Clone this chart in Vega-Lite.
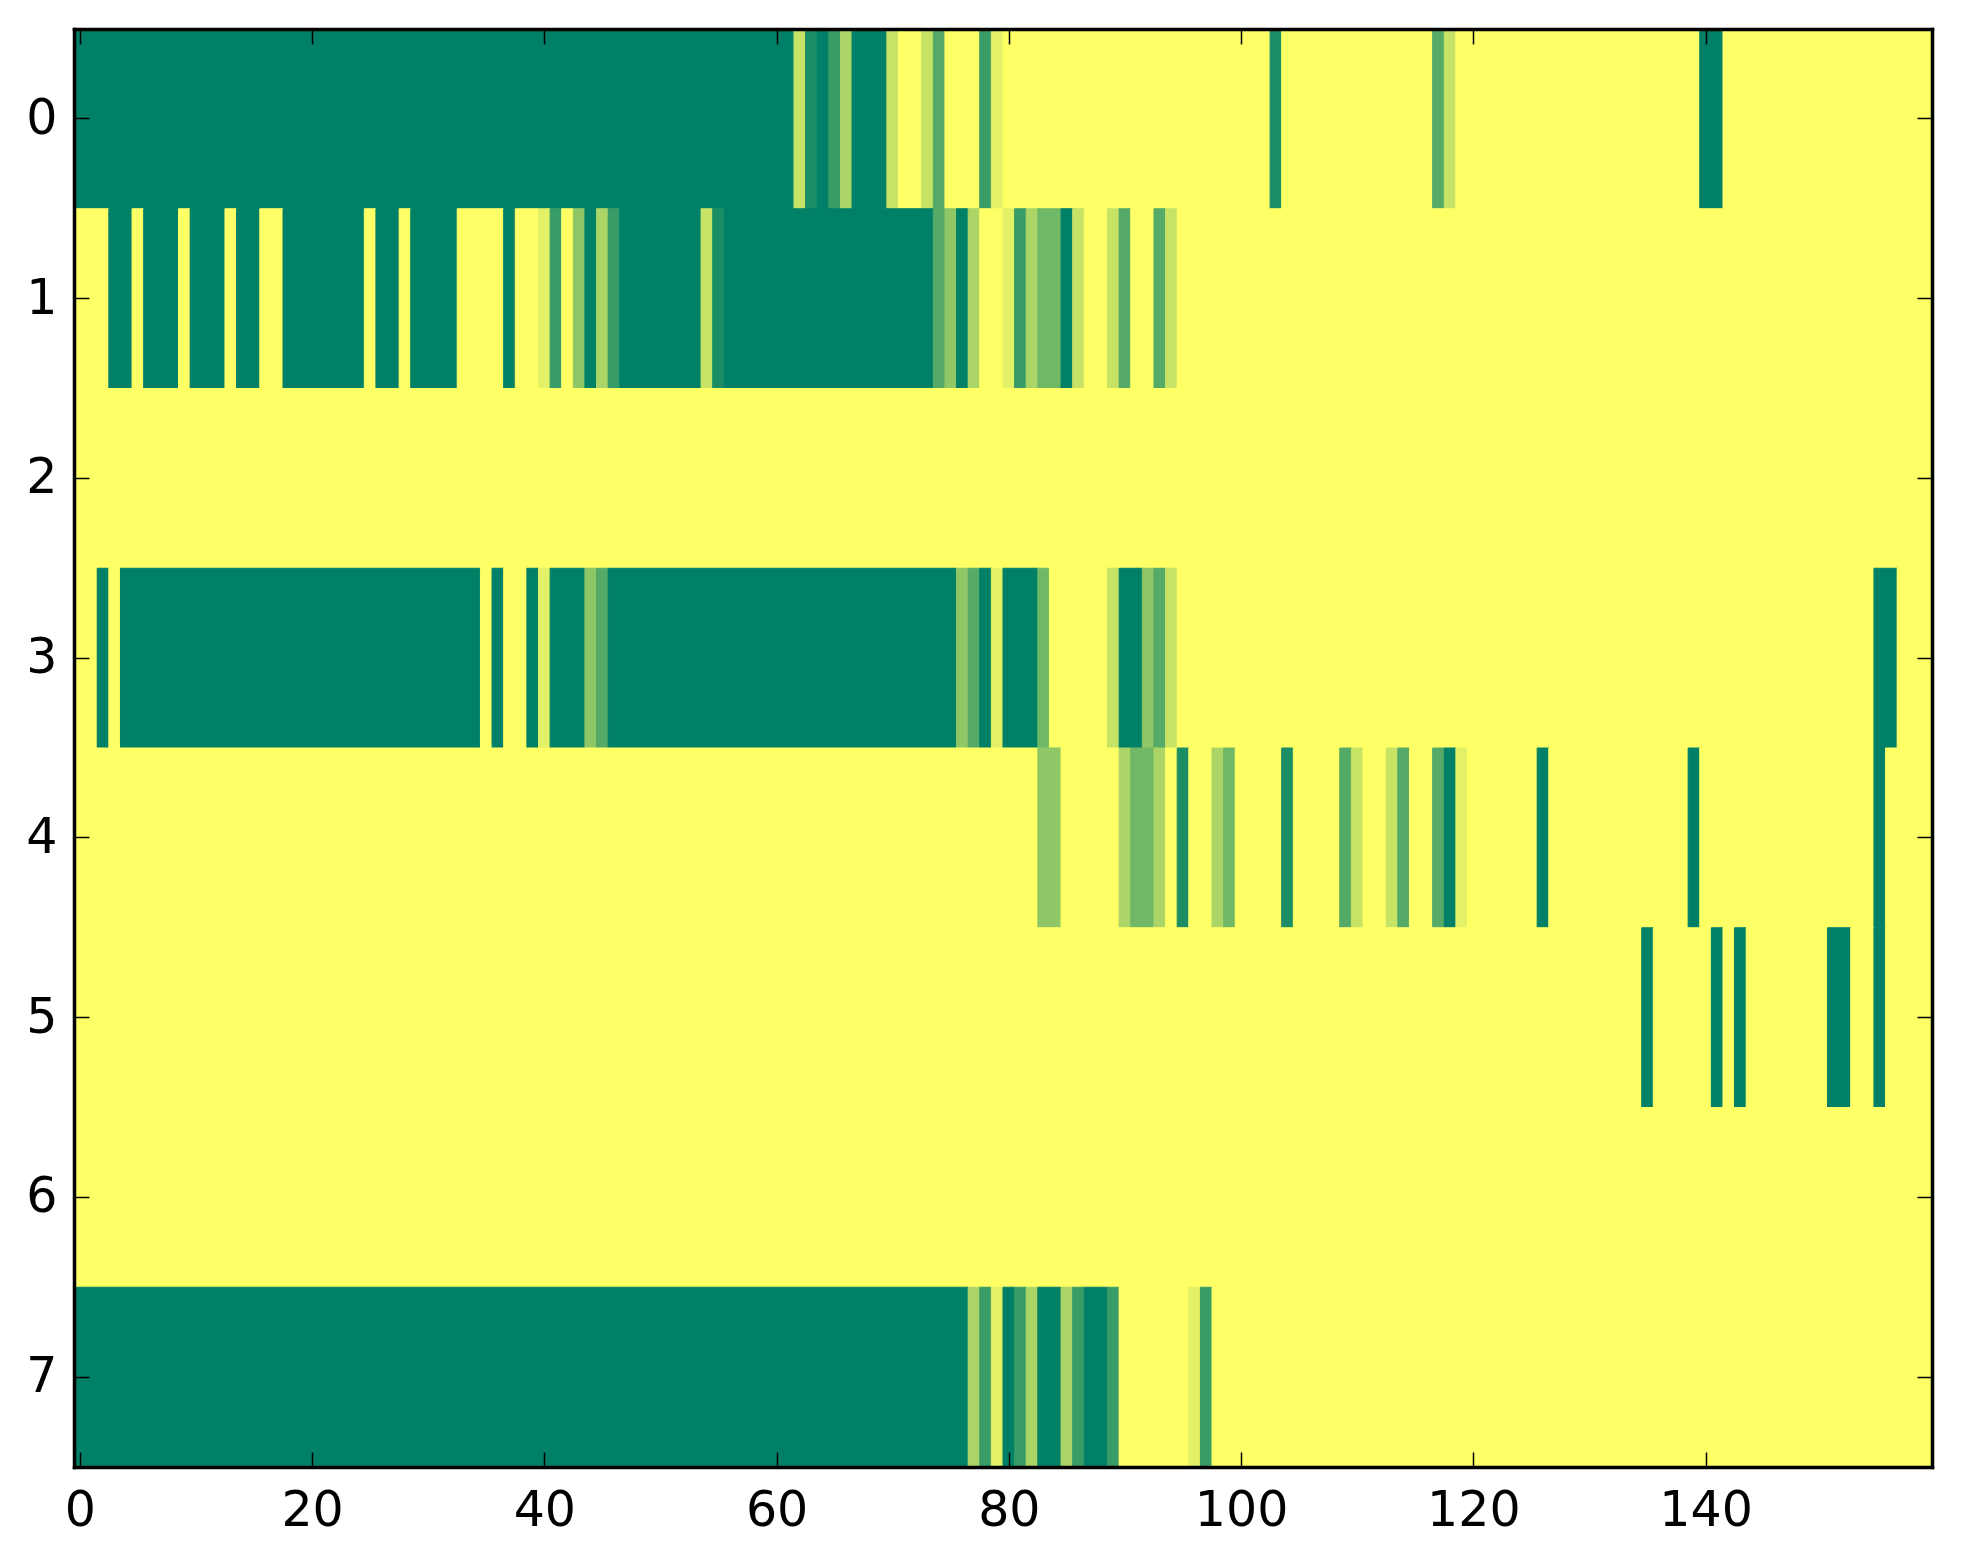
{
  "$schema": "https://vega.github.io/schema/vega-lite/v6.json",
  "width": 1858,
  "height": 1438,
  "autosize": "none",
  "padding": {"left": 74, "top": 29, "right": 31, "bottom": 97},
  "background": "white",
  "config": {
    "view": {"stroke": null},
    "font": "DejaVu Sans",
    "axis": {
      "grid": false,
      "title": null,
      "labelFont": "DejaVu Sans",
      "labelFontSize": 49,
      "labelColor": "black"
    }
  },
  "data": {
    "values": [
      {"row": 0, "from": -0.5, "to": 61.5, "value": 0},
      {"row": 0, "from": 61.5, "to": 62.5, "value": 0.78},
      {"row": 0, "from": 62.5, "to": 63.5, "value": 0.11},
      {"row": 0, "from": 63.5, "to": 64.5, "value": 0},
      {"row": 0, "from": 64.5, "to": 65.5, "value": 0.22},
      {"row": 0, "from": 65.5, "to": 66.5, "value": 0.67},
      {"row": 0, "from": 66.5, "to": 69.5, "value": 0},
      {"row": 0, "from": 69.5, "to": 70.5, "value": 0.78},
      {"row": 0, "from": 70.5, "to": 72.5, "value": 1},
      {"row": 0, "from": 72.5, "to": 73.5, "value": 0.78},
      {"row": 0, "from": 73.5, "to": 74.5, "value": 0.33},
      {"row": 0, "from": 74.5, "to": 77.5, "value": 1},
      {"row": 0, "from": 77.5, "to": 78.5, "value": 0.22},
      {"row": 0, "from": 78.5, "to": 79.5, "value": 0.89},
      {"row": 0, "from": 79.5, "to": 102.5, "value": 1},
      {"row": 0, "from": 102.5, "to": 103.5, "value": 0.11},
      {"row": 0, "from": 103.5, "to": 116.5, "value": 1},
      {"row": 0, "from": 116.5, "to": 117.5, "value": 0.33},
      {"row": 0, "from": 117.5, "to": 118.5, "value": 0.78},
      {"row": 0, "from": 118.5, "to": 139.5, "value": 1},
      {"row": 0, "from": 139.5, "to": 141.5, "value": 0},
      {"row": 0, "from": 141.5, "to": 159.5, "value": 1},

      {"row": 1, "from": -0.5, "to": 2.5, "value": 1},
      {"row": 1, "from": 2.5, "to": 4.5, "value": 0},
      {"row": 1, "from": 4.5, "to": 5.5, "value": 1},
      {"row": 1, "from": 5.5, "to": 8.5, "value": 0},
      {"row": 1, "from": 8.5, "to": 9.5, "value": 1},
      {"row": 1, "from": 9.5, "to": 12.5, "value": 0},
      {"row": 1, "from": 12.5, "to": 13.5, "value": 1},
      {"row": 1, "from": 13.5, "to": 15.5, "value": 0},
      {"row": 1, "from": 15.5, "to": 17.5, "value": 1},
      {"row": 1, "from": 17.5, "to": 24.5, "value": 0},
      {"row": 1, "from": 24.5, "to": 25.5, "value": 1},
      {"row": 1, "from": 25.5, "to": 27.5, "value": 0},
      {"row": 1, "from": 27.5, "to": 28.5, "value": 1},
      {"row": 1, "from": 28.5, "to": 32.5, "value": 0},
      {"row": 1, "from": 32.5, "to": 36.5, "value": 1},
      {"row": 1, "from": 36.5, "to": 37.5, "value": 0},
      {"row": 1, "from": 37.5, "to": 39.5, "value": 1},
      {"row": 1, "from": 39.5, "to": 40.5, "value": 0.89},
      {"row": 1, "from": 40.5, "to": 41.5, "value": 0.22},
      {"row": 1, "from": 41.5, "to": 42.5, "value": 1},
      {"row": 1, "from": 42.5, "to": 43.5, "value": 0.56},
      {"row": 1, "from": 43.5, "to": 44.5, "value": 0},
      {"row": 1, "from": 44.5, "to": 45.5, "value": 0.67},
      {"row": 1, "from": 45.5, "to": 46.5, "value": 0.22},
      {"row": 1, "from": 46.5, "to": 53.5, "value": 0},
      {"row": 1, "from": 53.5, "to": 54.5, "value": 0.78},
      {"row": 1, "from": 54.5, "to": 55.5, "value": 0.11},
      {"row": 1, "from": 55.5, "to": 73.5, "value": 0},
      {"row": 1, "from": 73.5, "to": 74.5, "value": 0.33},
      {"row": 1, "from": 74.5, "to": 75.5, "value": 0.56},
      {"row": 1, "from": 75.5, "to": 76.5, "value": 0},
      {"row": 1, "from": 76.5, "to": 77.5, "value": 0.67},
      {"row": 1, "from": 77.5, "to": 79.5, "value": 1},
      {"row": 1, "from": 79.5, "to": 80.5, "value": 0.89},
      {"row": 1, "from": 80.5, "to": 81.5, "value": 0.22},
      {"row": 1, "from": 81.5, "to": 82.5, "value": 0.67},
      {"row": 1, "from": 82.5, "to": 84.5, "value": 0.44},
      {"row": 1, "from": 84.5, "to": 85.5, "value": 0},
      {"row": 1, "from": 85.5, "to": 86.5, "value": 0.78},
      {"row": 1, "from": 86.5, "to": 88.5, "value": 1},
      {"row": 1, "from": 88.5, "to": 89.5, "value": 0.78},
      {"row": 1, "from": 89.5, "to": 90.5, "value": 0.33},
      {"row": 1, "from": 90.5, "to": 92.5, "value": 1},
      {"row": 1, "from": 92.5, "to": 93.5, "value": 0.33},
      {"row": 1, "from": 93.5, "to": 94.5, "value": 0.78},
      {"row": 1, "from": 94.5, "to": 159.5, "value": 1},

      {"row": 2, "from": -0.5, "to": 159.5, "value": 1},

      {"row": 3, "from": -0.5, "to": 1.5, "value": 1},
      {"row": 3, "from": 1.5, "to": 2.5, "value": 0},
      {"row": 3, "from": 2.5, "to": 3.5, "value": 1},
      {"row": 3, "from": 3.5, "to": 34.5, "value": 0},
      {"row": 3, "from": 34.5, "to": 35.5, "value": 1},
      {"row": 3, "from": 35.5, "to": 36.5, "value": 0},
      {"row": 3, "from": 36.5, "to": 38.5, "value": 1},
      {"row": 3, "from": 38.5, "to": 39.5, "value": 0},
      {"row": 3, "from": 39.5, "to": 40.5, "value": 0.89},
      {"row": 3, "from": 40.5, "to": 43.5, "value": 0},
      {"row": 3, "from": 43.5, "to": 44.5, "value": 0.56},
      {"row": 3, "from": 44.5, "to": 45.5, "value": 0.33},
      {"row": 3, "from": 45.5, "to": 75.5, "value": 0},
      {"row": 3, "from": 75.5, "to": 76.5, "value": 0.56},
      {"row": 3, "from": 76.5, "to": 77.5, "value": 0.33},
      {"row": 3, "from": 77.5, "to": 78.5, "value": 0},
      {"row": 3, "from": 78.5, "to": 79.5, "value": 0.89},
      {"row": 3, "from": 79.5, "to": 82.5, "value": 0},
      {"row": 3, "from": 82.5, "to": 83.5, "value": 0.44},
      {"row": 3, "from": 83.5, "to": 88.5, "value": 1},
      {"row": 3, "from": 88.5, "to": 89.5, "value": 0.78},
      {"row": 3, "from": 89.5, "to": 91.5, "value": 0},
      {"row": 3, "from": 91.5, "to": 92.5, "value": 0.56},
      {"row": 3, "from": 92.5, "to": 93.5, "value": 0.33},
      {"row": 3, "from": 93.5, "to": 94.5, "value": 0.78},
      {"row": 3, "from": 94.5, "to": 154.5, "value": 1},
      {"row": 3, "from": 154.5, "to": 156.5, "value": 0},
      {"row": 3, "from": 156.5, "to": 159.5, "value": 1},

      {"row": 4, "from": -0.5, "to": 82.5, "value": 1},
      {"row": 4, "from": 82.5, "to": 84.5, "value": 0.56},
      {"row": 4, "from": 84.5, "to": 89.5, "value": 1},
      {"row": 4, "from": 89.5, "to": 90.5, "value": 0.67},
      {"row": 4, "from": 90.5, "to": 92.5, "value": 0.44},
      {"row": 4, "from": 92.5, "to": 93.5, "value": 0.67},
      {"row": 4, "from": 93.5, "to": 94.5, "value": 1},
      {"row": 4, "from": 94.5, "to": 95.5, "value": 0.11},
      {"row": 4, "from": 95.5, "to": 97.5, "value": 1},
      {"row": 4, "from": 97.5, "to": 98.5, "value": 0.67},
      {"row": 4, "from": 98.5, "to": 99.5, "value": 0.44},
      {"row": 4, "from": 99.5, "to": 103.5, "value": 1},
      {"row": 4, "from": 103.5, "to": 104.5, "value": 0.11},
      {"row": 4, "from": 104.5, "to": 108.5, "value": 1},
      {"row": 4, "from": 108.5, "to": 109.5, "value": 0.33},
      {"row": 4, "from": 109.5, "to": 110.5, "value": 0.78},
      {"row": 4, "from": 110.5, "to": 112.5, "value": 1},
      {"row": 4, "from": 112.5, "to": 113.5, "value": 0.78},
      {"row": 4, "from": 113.5, "to": 114.5, "value": 0.33},
      {"row": 4, "from": 114.5, "to": 116.5, "value": 1},
      {"row": 4, "from": 116.5, "to": 117.5, "value": 0.33},
      {"row": 4, "from": 117.5, "to": 118.5, "value": 0},
      {"row": 4, "from": 118.5, "to": 119.5, "value": 0.89},
      {"row": 4, "from": 119.5, "to": 125.5, "value": 1},
      {"row": 4, "from": 125.5, "to": 126.5, "value": 0},
      {"row": 4, "from": 126.5, "to": 138.5, "value": 1},
      {"row": 4, "from": 138.5, "to": 139.5, "value": 0},
      {"row": 4, "from": 139.5, "to": 154.5, "value": 1},
      {"row": 4, "from": 154.5, "to": 155.5, "value": 0},
      {"row": 4, "from": 155.5, "to": 159.5, "value": 1},

      {"row": 5, "from": -0.5, "to": 134.5, "value": 1},
      {"row": 5, "from": 134.5, "to": 135.5, "value": 0},
      {"row": 5, "from": 135.5, "to": 140.5, "value": 1},
      {"row": 5, "from": 140.5, "to": 141.5, "value": 0},
      {"row": 5, "from": 141.5, "to": 142.5, "value": 1},
      {"row": 5, "from": 142.5, "to": 143.5, "value": 0},
      {"row": 5, "from": 143.5, "to": 150.5, "value": 1},
      {"row": 5, "from": 150.5, "to": 152.5, "value": 0},
      {"row": 5, "from": 152.5, "to": 154.5, "value": 1},
      {"row": 5, "from": 154.5, "to": 155.5, "value": 0},
      {"row": 5, "from": 155.5, "to": 159.5, "value": 1},

      {"row": 6, "from": -0.5, "to": 159.5, "value": 1},

      {"row": 7, "from": -0.5, "to": 76.5, "value": 0},
      {"row": 7, "from": 76.5, "to": 77.5, "value": 0.67},
      {"row": 7, "from": 77.5, "to": 78.5, "value": 0.22},
      {"row": 7, "from": 78.5, "to": 79.5, "value": 0.89},
      {"row": 7, "from": 79.5, "to": 80.5, "value": 0},
      {"row": 7, "from": 80.5, "to": 81.5, "value": 0.22},
      {"row": 7, "from": 81.5, "to": 82.5, "value": 0.67},
      {"row": 7, "from": 82.5, "to": 84.5, "value": 0},
      {"row": 7, "from": 84.5, "to": 85.5, "value": 0.67},
      {"row": 7, "from": 85.5, "to": 86.5, "value": 0.22},
      {"row": 7, "from": 86.5, "to": 88.5, "value": 0},
      {"row": 7, "from": 88.5, "to": 89.5, "value": 0.22},
      {"row": 7, "from": 89.5, "to": 95.5, "value": 1},
      {"row": 7, "from": 95.5, "to": 96.5, "value": 0.89},
      {"row": 7, "from": 96.5, "to": 97.5, "value": 0.22},
      {"row": 7, "from": 97.5, "to": 159.5, "value": 1}
    ]
  },
  "layer": [
    {
      "mark": {"type": "rect", "strokeWidth": 1},
      "encoding": {
        "x": {
          "field": "from",
          "type": "quantitative",
          "scale": {"domain": [-0.5, 159.5], "nice": false, "zero": false},
          "axis": {
            "orient": "bottom", "zindex": 2,
            "values": [0, 20, 40, 60, 80, 100, 120, 140],
            "domain": true, "domainColor": "black", "domainWidth": 3.5, "domainCap": "square",
            "ticks": true, "tickColor": "black", "tickWidth": 1.5, "tickSize": -15,
            "labelPadding": 34, "labelFlush": false
          }
        },
        "x2": {"field": "to"},
        "y": {
          "field": "row",
          "type": "ordinal",
          "scale": {"paddingInner": 0, "paddingOuter": 0},
          "axis": {
            "orient": "left", "zindex": 2, "labelAngle": 0,
            "domain": true, "domainColor": "black", "domainWidth": 3.5, "domainCap": "square",
            "ticks": true, "tickColor": "black", "tickWidth": 1.5, "tickSize": -15,
            "labelPadding": 32
          }
        },
        "color": {
          "field": "value",
          "type": "quantitative",
          "scale": {"domain": [0, 1], "range": ["#008066", "#ffff66"], "interpolate": "rgb"},
          "legend": null
        },
        "stroke": {
          "field": "value",
          "type": "quantitative",
          "scale": {"domain": [0, 1], "range": ["#008066", "#ffff66"], "interpolate": "rgb"},
          "legend": null
        }
      }
    },
    {
      "mark": {"type": "rect", "opacity": 0},
      "encoding": {
        "x": {
          "field": "from",
          "type": "quantitative",
          "axis": {
            "orient": "top", "zindex": 2,
            "values": [0, 20, 40, 60, 80, 100, 120, 140], "labels": false,
            "domain": true, "domainColor": "black", "domainWidth": 3.5, "domainCap": "square",
            "ticks": true, "tickColor": "black", "tickWidth": 1.5, "tickSize": -15
          }
        },
        "x2": {"field": "to"},
        "y": {
          "field": "row",
          "type": "ordinal",
          "axis": {
            "orient": "right", "zindex": 2, "labels": false,
            "domain": true, "domainColor": "black", "domainWidth": 3.5, "domainCap": "square",
            "ticks": true, "tickColor": "black", "tickWidth": 1.5, "tickSize": -15
          }
        }
      }
    }
  ],
  "resolve": {"axis": {"x": "independent", "y": "independent"}}
}
